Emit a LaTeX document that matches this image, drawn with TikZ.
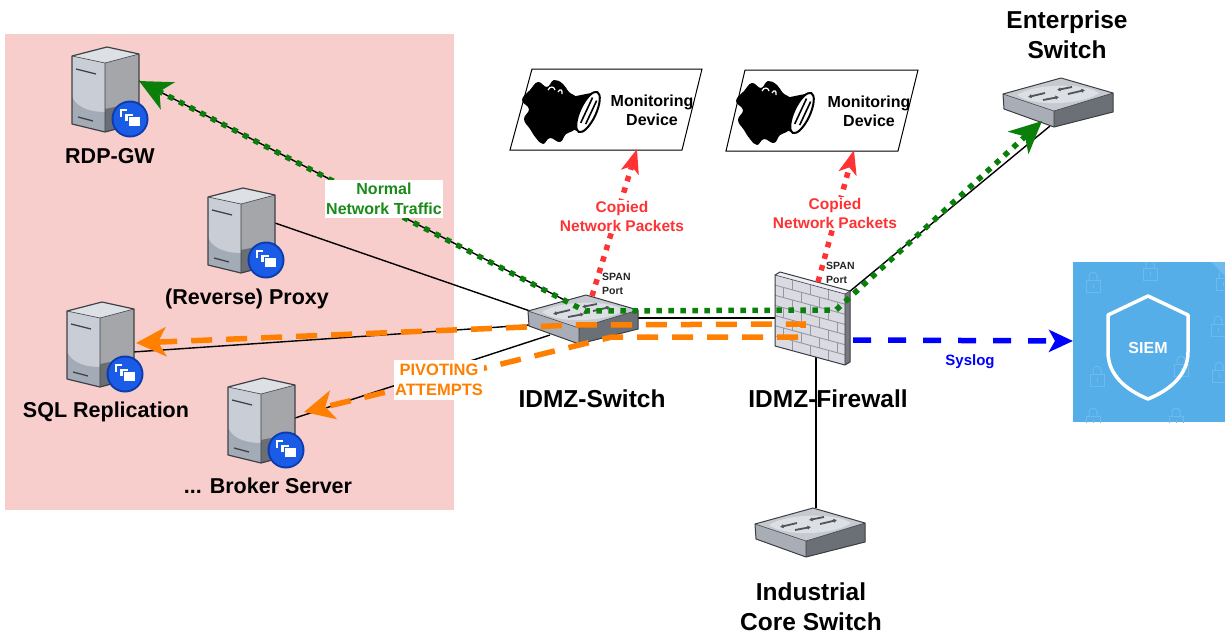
\documentclass[tikz,border=0pt]{standalone}
\usepackage{fontspec}
\setmainfont{Liberation Sans}
\usetikzlibrary{arrows.meta,calc}

\definecolor{pinkFill}{HTML}{F8CECC}
\definecolor{pinkLine}{HTML}{B85450}
\definecolor{flowGreen}{HTML}{0A800A}
\definecolor{textGreen}{HTML}{1A8A1A}
\definecolor{flowOrange}{HTML}{FF8000}
\definecolor{flowRed}{HTML}{FF3333}
\definecolor{flowBlue}{HTML}{0000FF}
\definecolor{siemBlue}{HTML}{55AEE8}
\definecolor{siemLock}{HTML}{6DBBEE}
\definecolor{srvTop}{HTML}{DDE0E4}
\definecolor{srvL}{HTML}{C9CED6}
\definecolor{srvLd}{HTML}{A3ABB7}
\definecolor{srvR}{HTML}{A4A6AA}
\definecolor{srvRd}{HTML}{6A6F75}
\definecolor{srvEdge}{HTML}{3E4247}
\definecolor{badge}{HTML}{1A5CE6}
\definecolor{badgeRim}{HTML}{0C3BAE}
\definecolor{swTop}{HTML}{C6CAD0}
\definecolor{swTopL}{HTML}{DCDFE3}
\definecolor{swL}{HTML}{A9AEB6}
\definecolor{swR}{HTML}{6B7077}
\definecolor{swEdge}{HTML}{3A3D42}
\definecolor{swArrow}{HTML}{50555B}
\definecolor{wallFace}{HTML}{D9DAE2}
\definecolor{wallTop}{HTML}{EEEFF3}
\definecolor{wallSide}{HTML}{767980}
\definecolor{mortar}{HTML}{9598A2}
\definecolor{wallEdge}{HTML}{3A3C42}

\begin{document}
\begin{tikzpicture}[x=1pt,y=-1pt,
  devbox/.style={draw=none, inner sep=0, anchor=north west},
  srvlab/.style={font=\bfseries\fontsize{21.5pt}{26pt}\selectfont, inner sep=0, anchor=base},
  devlab/.style={font=\bfseries\fontsize{24.5pt}{29.5pt}\selectfont, inner sep=0, align=center},
  conn/.style={draw=black, line width=1.4pt},
  gflow/.style={draw=flowGreen, line width=5.5pt, dash pattern=on 5.5pt off 6.5pt,
    arrows={Stealth[length=32pt,width=30pt,inset=9pt]-Stealth[length=32pt,width=30pt,inset=9pt]}},
  oflow/.style={draw=flowOrange, line width=5.5pt, dash pattern=on 21pt off 14pt,
    arrows={Stealth[length=30pt,width=29pt,inset=8pt]-Stealth[length=30pt,width=29pt,inset=8pt]}},
  rflow/.style={draw=flowRed, line width=5.5pt, dash pattern=on 5.5pt off 6.5pt,
    arrows={-Stealth[length=24pt,width=18pt,inset=6pt]}},
  bflow/.style={draw=flowBlue, line width=5.5pt, dash pattern=on 18pt off 17pt,
    arrows={-Stealth[length=24pt,width=22pt,inset=6pt]}},
  flowlab/.style={font=\bfseries\fontsize{16pt}{20pt}\selectfont, align=center, fill=white, inner sep=1.5pt},
  spanlab/.style={font=\bfseries\fontsize{10.5pt}{14pt}\selectfont, align=left, inner sep=0, anchor=west, text=black!85},
  % server with remote-desktop badge, origin at top-left
  pics/server/.style={code={
    \fill[srvL] (0,9) -- (33,16) -- (33,85) -- (0,77) -- cycle;
    \fill[srvLd] (0,50) .. controls (6,62) and (20,65) .. (33,65) -- (33,85) -- (0,77) -- cycle;
    \fill[srvR] (33,16) -- (67,7) -- (67,76) -- (33,85) -- cycle;
    \fill[srvRd] (33,62) -- (67,55) -- (67,76) -- (33,85) -- cycle;
    \fill[srvTop] (0,9) -- (35,0) -- (67,7) -- (33,16) -- cycle;
    \draw[srvEdge, line width=0.6pt] (0,9) -- (33,16) -- (67,7) (33,16) -- (33,85);
    \draw[srvEdge, line width=1.2pt, line join=round] (0,9) -- (35,0) -- (67,7) -- (67,76) -- (33,85) -- (0,77) -- cycle;
    \draw[srvEdge, line width=1.3pt] (4,22) -- (24,27) (6,70) -- (21,74);
    \fill[badgeRim] (58,72) circle (18.5pt);
    \fill[badge] (58,72) circle (16.5pt);
    \draw[white, line width=1.6pt] (49,70) -- (49,63) -- (55,63);
    \filldraw[fill=white, draw=badge, line width=0.8pt] (52,66) rectangle (61,74);
    \filldraw[fill=white, draw=badge, line width=0.8pt] (56,69) rectangle (68,79);
  }},
  % network switch, origin at top-left
  pics/switch/.style={code={
    \fill[swL] (0,16) -- (51,33) -- (51,49) -- (1,31) -- cycle;
    \fill[swR] (51,33) -- (110,15) -- (110,34) -- (51,49) -- cycle;
    \fill[swTop] (0,16) -- (58,0) -- (110,15) -- (51,33) -- cycle;
    \fill[swTopL] (14,17) .. controls (30,6) and (80,4) .. (96,15) .. controls (82,26) and (32,30) .. (14,17) -- cycle;
    \draw[swEdge, line width=0.6pt] (0,16) -- (51,33) -- (110,15) (51,33) -- (51,49);
    \draw[swEdge, line width=1pt, line join=round] (0,16) -- (58,0) -- (110,15) -- (110,34) -- (51,49) -- (1,31) -- cycle;
    \draw[swArrow, line width=1.8pt, -{Latex[length=3.5pt,width=4.5pt]}] (42,15) -- (25,19);
    \draw[swArrow, line width=1.8pt, -{Latex[length=3.5pt,width=4.5pt]}] (69,9) -- (54,12);
    \draw[swArrow, line width=1.8pt, -{Latex[length=3.5pt,width=4.5pt]}] (40,22) -- (56,19);
    \draw[swArrow, line width=1.8pt, -{Latex[length=3.5pt,width=4.5pt]}] (65,16) -- (82,12);
  }},
  % brick firewall, origin at top-left
  pics/firewall/.style={code={
    \fill[wallFace] (2,4) -- (72,23) -- (72,94) -- (2,75) -- cycle;
    \fill[wallTop] (2,4) -- (7,1) -- (77,20) -- (72,23) -- cycle;
    \fill[wallSide] (72,23) -- (77,20) -- (77,91) -- (72,94) -- cycle;
    \foreach \r in {1,...,6}{
      \pgfmathsetmacro\ya{4+10.14*\r}
      \draw[mortar, line width=0.9pt] (2,\ya) -- (72,{\ya+19});
    }
    \foreach \r in {0,2,4,6}{\foreach \xx in {19,37,55}{
      \pgfmathsetmacro\ya{4+10.14*\r+(\xx-2)*0.2714}
      \draw[mortar, line width=0.9pt] (\xx,\ya) -- (\xx,{\ya+10.14});
    }}
    \foreach \r in {1,3,5}{\foreach \xx in {10,28,46,64}{
      \pgfmathsetmacro\ya{4+10.14*\r+(\xx-2)*0.2714}
      \draw[mortar, line width=0.9pt] (\xx,\ya) -- (\xx,{\ya+10.14});
    }}
    \draw[wallEdge, line width=1pt, line join=round] (2,4) -- (7,1) -- (77,20) -- (77,91) -- (72,94) -- (2,75) -- cycle;
    \draw[wallEdge, line width=0.6pt] (2,4) -- (72,23) -- (77,20) (72,23) -- (72,94);
  }},
  % sniffing pig emblem, origin at its centre
  pics/pig/.style={code={
    \fill plot[smooth cycle, tension=0.75] coordinates {(-22,-22) (-14,-30) (-5,-25) (2,-32) (11,-28) (17,-20) (25,-14) (27,-3) (28,9) (22,18) (14,22) (8,30) (-2,26) (-9,32) (-16,26) (-22,17) (-28,7) (-23,-3) (-30,-12)};
    \draw[white, line width=1.2pt] (-4,-22) .. controls (-2,-26) and (2,-26) .. (3,-22);
    \draw[white, line width=1.2pt] (6,-20) .. controls (8,-24) and (11,-22) .. (10,-18);
    \fill (14,-14) -- (44,-20) -- (28,20) -- (12,14) -- cycle;
    \filldraw[fill=white, line width=2pt, rotate around={-25:(36,0)}] (36,0) ellipse [x radius=8pt, y radius=22pt];
    \draw[line width=1.6pt, rotate around={-25:(36,0)}] (34,-15) -- (34,13) (39,-14) -- (39,12);
  }},
  % padlock watermark, origin at its centre
  pics/padlock/.style={code={
    \draw[siemLock, line width=1pt] (-7,-2) rectangle (7,10);
    \draw[siemLock, line width=1pt] (-4,-2) -- (-4,-6) .. controls (-4,-11) and (4,-11) .. (4,-6) -- (4,-2);
    \draw[siemLock, line width=1pt] (0,2) -- (0,6);
  }}
]
\path[use as bounding box] (0,0) rectangle (1225,635);

% ---------- IDMZ zone ----------
\node[draw=pinkLine, fill=pinkFill, line width=1pt, devbox, minimum width=449pt, minimum height=476pt] (zone) at (4,33) {};

% ---------- device frames ----------
\node[devbox, minimum width=67pt, minimum height=85pt] (rdp) at (72,47) {};
\node[devbox, minimum width=67pt, minimum height=85pt] (proxy) at (208,188) {};
\node[devbox, minimum width=67pt, minimum height=85pt] (sql) at (67,302) {};
\node[devbox, minimum width=67pt, minimum height=85pt] (broker) at (228,378) {};
\node[devbox, minimum width=110pt, minimum height=49pt] (sw) at (528,295) {};
\node[devbox, minimum width=110pt, minimum height=49pt] (ent) at (1003,78) {};
\node[devbox, minimum width=110pt, minimum height=49pt] (core) at (755,508) {};
\node[devbox, minimum width=78pt, minimum height=94pt] (fw) at (773,271) {};
\node[devbox, fill=siemBlue, minimum width=152pt, minimum height=160pt] (siem) at (1073,262) {};

% ---------- device labels ----------
\node[srvlab] (rdpLab) at (110,163) {RDP-GW};
\node[srvlab] (proxyLab) at (247,304) {(Reverse) Proxy};
\node[srvlab] (sqlLab) at (106,417) {SQL Replication};
\node[srvlab] (brokerLab) at (268,493) {... Broker Server};
\node[devlab, anchor=base] (swLab) at (592,407) {IDMZ-Switch};
\node[devlab, anchor=base] (fwLab) at (828,407) {IDMZ-Firewall};
\node[devlab] (entLab) at (1067,34.5) {Enterprise\\Switch};
\node[devlab] (coreLab) at (811,606.5) {Industrial\\Core Switch};

% ---------- connector end points ----------
\coordinate (rdpA) at (139,81);
\coordinate (swA) at (580,308);
\coordinate (proxyA) at (275,223);
\coordinate (swB) at (530,311);
\coordinate (sqlA) at (133,352);
\coordinate (swC) at (529,325);
\coordinate (brokerA) at (295,418);
\coordinate (swD) at (550,335);
\coordinate (swE) at (638,318);
\coordinate (fwA) at (775,318);
\coordinate (fwB) at (849,292);
\coordinate (entA) at (1050,126);
\coordinate (fwC) at (816,355);
\coordinate (coreA) at (816,508);

% ---------- cabling ----------
\draw[conn] (rdpA) -- (swA);
\draw[conn] (proxyA) -- (swB);
\draw[conn] (sqlA) -- (swC);
\draw[conn] (brokerA) -- (swD);
\draw[conn] (swE) -- (fwA);
\draw[conn] (fwB) -- (entA);
\draw[conn] (fwC) -- (coreA);

% ---------- icons ----------
\pic at (rdp.north west) {server};
\pic at (proxy.north west) {server};
\pic at (sql.north west) {server};
\pic at (broker.north west) {server};
\pic at (sw.north west) {switch};
\pic at (ent.north west) {switch};
\pic at (core.north west) {switch};
\pic at (fw.north west) {firewall};

% monitoring devices
\draw[line width=1pt, fill=white] (532,69) -- (702,69) -- (682,150) -- (510,150) -- cycle;
\draw[line width=1pt, fill=white] (745,70) -- (918,70) -- (898,151) -- (726,151) -- cycle;
\pic at (552,112) {pig};
\pic at (766,113) {pig};
\node[font=\bfseries\fontsize{16pt}{19pt}\selectfont, align=center, inner sep=0] (mon1) at (652,110.5) {Monitoring\\Device};
\node[font=\bfseries\fontsize{16pt}{19pt}\selectfont, align=center, inner sep=0] (mon2) at (869,111) {Monitoring\\Device};
\coordinate (mon1In) at (637,149);
\coordinate (mon2In) at (854,150);

% SIEM tile
\begin{scope}
  \clip (siem.north west) rectangle (siem.south east);
  \foreach \p in {(1093,282),(1097,376),(1223,280),(1218,326),(1219,372),(1181,366),(1093,418),(1176,418),(1150,270)}
    \pic at \p {padlock};
  \fill[siemLock] (1211,262) -- (1225,262) -- (1225,276) -- cycle;
\end{scope}
\draw[white, line width=3.5pt, line join=round] (1148,296) -- (1188,315) -- (1188,352)
  .. controls (1188,375) and (1170,390) .. (1148,399)
  .. controls (1126,390) and (1108,375) .. (1108,352) -- (1108,315) -- cycle;
\node[text=white, font=\bfseries\fontsize{16pt}{19pt}\selectfont, inner sep=0] (siemLab) at (1148,348) {SIEM};
\coordinate (siemIn) at (1073,341);

% ---------- traffic flows ----------
\coordinate (g1) at (585,311);
\coordinate (g2) at (836,310);
\coordinate (entG) at (1042,121);
\draw[gflow] (rdpA) -- (g1) -- (g2) -- (entG);

\coordinate (sqlO) at (136,343);
\coordinate (o1) at (575,325);
\coordinate (o2) at (803,324);
\coordinate (o3) at (803,337);
\coordinate (o4) at (612,337);
\coordinate (brokerO) at (304,412);
\draw[oflow] (sqlO) -- (o1) -- (o2) -- (o3) -- (o4) -- (brokerO);

\coordinate (swSpan) at (592,296);
\coordinate (fwSpan) at (818,282);
\draw[rflow] (swSpan) -- (mon1In);
\draw[rflow] (fwSpan) -- (mon2In);

\coordinate (fwLog) at (853,340);
\draw[bflow] (fwLog) -- (siemIn);

% ---------- flow labels ----------
\node[flowlab, text=textGreen, minimum width=118pt, minimum height=38pt] (normLab) at (384,199) {Normal\\Network Traffic};
\node[flowlab, text=flowOrange, minimum width=90pt, minimum height=40pt, font=\bfseries\fontsize{16.5pt}{20pt}\selectfont] (pivLab) at (439,380) {PIVOTING\\ATTEMPTS};
\node[flowlab, text=flowRed, font=\bfseries\fontsize{15.5pt}{19pt}\selectfont] (cp1Lab) at (622,216.5) {Copied\\Network Packets};
\node[flowlab, text=flowRed, font=\bfseries\fontsize{15.5pt}{19pt}\selectfont] (cp2Lab) at (835,213.5) {Copied\\Network Packets};
\node[spanlab] (span1Lab) at (602,284) {SPAN\\Port};
\node[spanlab] (span2Lab) at (826,272.5) {SPAN\\Port};
\node[text=flowBlue, font=\bfseries\fontsize{15pt}{18pt}\selectfont, inner sep=0] (sysLab) at (970,362) {Syslog};

\end{tikzpicture}
\end{document}
